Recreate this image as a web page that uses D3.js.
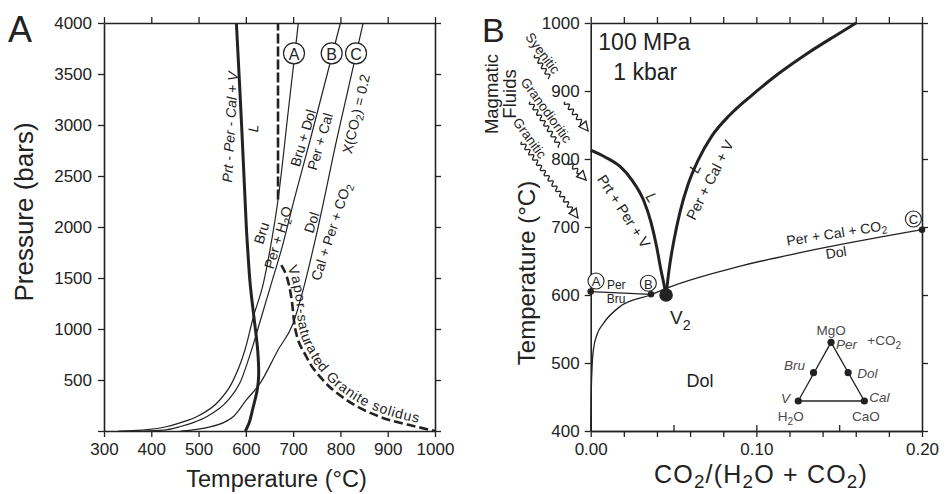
<!DOCTYPE html>
<html><head><meta charset="utf-8">
<script src="https://cdn.jsdelivr.net/npm/d3@7"></script>
<style>
body{margin:0;background:#fff;}
svg{display:block;font-family:"Liberation Sans",Arial,sans-serif;}
</style></head><body>
<svg id="chart" width="948" height="494"></svg>
<script>
// ================= DATA =================
// Panel A : temperature (°C) vs pressure (bars)
const tempTicksA  = [300,400,500,600,700,800,900,1000];
const pressTicksA = [0,500,1000,1500,2000,2500,3000,3500,4000];
// [T, P] pairs
const curveA = [[330,0],[382,8],[432,42],[464,85],[496,140],[545,304],[570,467],[598,794],[616,1120],[637,1448],[651,1775],[668,2265],[690,3150],[711,4000]];
const curveB = [[385,0],[425,8],[460,42],[490,85],[517,140],[563,304],[587,467],[612,794],[633,1120],[654,1448],[675,1775],[702,2265],[736,2853],[800,4000]];
const curveC = [[462,0],[520,35],[573,140],[601,304],[630,467],[668,794],[700,1056],[721,1382],[750,1941],[792,2853],[848,4000]];
const liquidusA = [[599,0],[607,80],[614,206],[624,402],[627,532],[625,794],[617,1120],[609,1448],[604,1775],[601,2000],[591,3000],[580,4000]];
const verticalDashA = [[668,2270],[668,4000]];
const solidusA = [[675,1627],[697,1284],[703.5,1022],[728,728],[763,500],[813,304],[883,140],[961,42],[1000,0]];
const circlesA = [{t:"A",T:701.8,P:3703},{t:"B",T:781.5,P:3703},{t:"C",T:833,P:3703}];
const labelsA = [
  {t:"Prt - Per - Cal + V", T:566.5, P:2980, rot:-86.8, it:true},
  {t:"L", T:615.7, P:2968, rot:-86.8, it:true},
  {t:"Bru + Dol", T:720.8, P:2873, rot:-73.6},
  {t:"Per + Cal", T:756.8, P:2838, rot:-73.6},
  {t:"X(CO_{2}) = 0.2", T:833, P:3108, rot:-76.8},
  {t:"Bru", T:633, P:1941, rot:-73},
  {t:"Per + H_{2}O", T:668, P:1897, rot:-73},
  {t:"Dol", T:739, P:2044, rot:-72},
  {t:"Cal + Per + CO_{2}", T:780, P:1954, rot:-72}
];
const solidusLabel = "Vapor-saturated Granite solidus";

// Panel B : X(CO2) vs temperature (°C) at 100 MPa
const xTicksB      = [0,0.02,0.04,0.06,0.08,0.10,0.12,0.14,0.16,0.18,0.20];
const xLabelsB     = ["0.00","0.10","0.20"];
const xInnerTicksB = [0.05,0.10,0.15];
const tempTicksB   = [400,500,600,700,800,900,1000];
// [X, T] pairs
const leftThickB  = [[0,813],[0.0086,803],[0.0177,789],[0.0249,769],[0.0318,740],[0.0364,707],[0.0398,671],[0.0424,637],[0.0443,615],[0.0455,600]];
const rightThickB = [[0.0455,600],[0.0473,637],[0.0503,681],[0.0539,722],[0.0587,762],[0.0648,798],[0.0732,834],[0.0841,865],[0.0974,894],[0.1131,925],[0.1312,956],[0.1475,981],[0.1602,1000]];
const dolCurveB   = [[0,400],[0.0002,440],[0.0008,492],[0.0016,519],[0.0040,543],[0.0076,558],[0.0177,583],[0.036,600],[0.048,612],[0.088,641],[0.128,663],[0.2,696]];
const perBruB     = [[0,605],[0.0364,601]];
const dotsB       = [[0,605],[0.0364,601],[0.2,696]];
const v2PointB    = [0.0455,600];
const circlesB    = [{t:"A",x:0.0032,T:620.6},{t:"B",x:0.0348,T:617.2},{t:"C",x:0.1948,T:711.8}];
const labelsB = [
  {t:"100 MPa", x:0.0046, T:960.3, fs:23, anchor:"start", mid:false},
  {t:"1 kbar", x:0.0136, T:916.2, fs:23, anchor:"start", mid:false},
  {t:"Prt + Per + V", x:0.0200, T:723, rot:57, fs:14.5},
  {t:"L", x:0.0372, T:744, rot:57, fs:15, it:true},
  {t:"L", x:0.0626, T:787, rot:-63, fs:15, it:true},
  {t:"Per + Cal + V", x:0.0720, T:769.1, rot:-63, fs:14.5},
  {t:"Per + Cal + CO_{2}", x:0.1485, T:691.2, rot:-9, fs:14},
  {t:"Dol", x:0.1481, T:662.5, rot:-9, fs:14},
  {t:"Per", x:0.0098, T:608.8, fs:12, anchor:"start", mid:false},
  {t:"Bru", x:0.0097, T:588.2, fs:12, anchor:"start", mid:false},
  {t:"Dol", x:0.0660, T:464.7, fs:18, mid:false}
];
// inset ternary (MgO - H2O - CaO, +CO2)
const ternaryPts = [{n:"MgO",x:0.1451,T:530.4},{n:"Bru",x:0.1345,T:485.7},{n:"Dol",x:0.1554,T:485.7},{n:"V",x:0.1253,T:444.1},{n:"Cal",x:0.1652,T:444.1}];
const ternaryEdges = [["MgO","V"],["MgO","Cal"],["V","Cal"]];
const ternaryLabels = [
  {t:"MgO", x:0.1451, T:541.2, anchor:"middle"},
  {t:"Per", x:0.1481, T:520.6, anchor:"start", it:true},
  {t:"+CO_{2}", x:0.1670, T:526.5, anchor:"start"},
  {t:"Bru", x:0.1294, T:489.7, anchor:"end", it:true},
  {t:"Dol", x:0.1609, T:478.0, anchor:"start", it:true},
  {t:"V", x:0.1203, T:441.2, anchor:"end", it:true},
  {t:"Cal", x:0.1682, T:443.1, anchor:"start", it:true},
  {t:"H_{2}O", x:0.1208, T:414.7, anchor:"middle"},
  {t:"CaO", x:0.1661, T:414.7, anchor:"middle"}
];
// magmatic fluid annotations (panel B coordinates)
const fluidTexts = [
  {t:"Syenitic", x:-0.0288, T:955.9, rot:53},
  {t:"Granodioritic", x:-0.0266, T:872.1, rot:54},
  {t:"Granitic", x:-0.0366, T:830.9, rot:54}
];
const fluidWaves  = [[[-0.0336,952.9],[-0.0246,919.1]],[[-0.0366,884.3],[-0.0185,818.1]]];
const fluidArrows = [[[-0.0156,884.3],[-0.0016,841.2]],[[-0.0135,796.0],[-0.0028,769.1]],[[-0.0417,825.4],[-0.0077,713.2]]];

// ================= DRAW =================
const ink = "#222";
const svg = d3.select("#chart");

const xA = d3.scaleLinear().domain([300,1000]).range([104,435]);
const yA = d3.scaleLinear().domain([0,4000]).range([431,23]);
const xB = d3.scaleLinear().domain([0,0.2]).range([590.7,922]);
const yB = d3.scaleLinear().domain([400,1000]).range([431,23]);

function rich(sel, str, fs, shift){
  shift = shift==null ? 0.3 : shift;
  const parts = str.split(/(_\{[^}]*\})/);
  let shifted = false;
  parts.forEach(p=>{
    if(!p) return;
    if(p.startsWith("_{")){
      sel.append("tspan").attr("dy", fs*shift).attr("font-size", fs*0.75).text(p.slice(2,-1));
      shifted = true;
    } else {
      const t = sel.append("tspan").text(p);
      if(shifted){ t.attr("dy", -fs*shift); shifted=false; }
    }
  });
}
function addText(g, x, y, str, o){
  o = o||{};
  const fs = o.fs||14;
  const t = g.append("text").attr("transform", `translate(${x},${y}) rotate(${o.rot||0})`)
    .attr("text-anchor", o.anchor||"middle").attr("font-size", fs).attr("fill", o.fill||ink);
  if(o.mid!==false) t.attr("dominant-baseline","central");
  if(o.it) t.attr("font-style","italic");
  if(o.ls) t.attr("letter-spacing", o.ls);
  rich(t, str, fs);
  return t;
}
function styleAxis(g, fs){
  g.selectAll(".domain").attr("stroke", ink).attr("stroke-width", 1.6);
  g.selectAll(".tick line").attr("stroke", ink).attr("stroke-width", 1.3);
  g.selectAll(".tick text").attr("fill", ink).attr("font-size", fs||17).attr("font-family","Liberation Sans, Arial, sans-serif");
}

// ---------- Panel A ----------
const gA = svg.append("g");
styleAxis(gA.append("g").attr("transform","translate(0,431)")
  .call(d3.axisBottom(xA).tickValues(tempTicksA).tickSizeInner(6).tickSizeOuter(0).tickPadding(6).tickFormat(d3.format("d"))));
styleAxis(gA.append("g").attr("transform","translate(0,23)")
  .call(d3.axisTop(xA).tickValues(tempTicksA).tickSizeInner(6).tickSizeOuter(0).tickFormat("")));
styleAxis(gA.append("g").attr("transform","translate(104,0)")
  .call(d3.axisLeft(yA).tickValues(pressTicksA).tickSizeInner(6).tickSizeOuter(0).tickPadding(6).tickFormat(d=>d===0?"":d)));
styleAxis(gA.append("g").attr("transform","translate(435,0)")
  .call(d3.axisRight(yA).tickValues(pressTicksA).tickSizeInner(6).tickSizeOuter(0).tickFormat("")));

const lineA = d3.line().x(d=>xA(d[0])).y(d=>yA(d[1]));
const lineAmono = d3.line().x(d=>xA(d[0])).y(d=>yA(d[1])).curve(d3.curveMonotoneX);
[curveA, curveB, curveC].forEach(c=>{
  gA.append("path").attr("d", lineAmono(c)).attr("fill","none").attr("stroke",ink).attr("stroke-width",1.2);
});
gA.append("path").attr("d", d3.line().x(d=>xA(d[0])).y(d=>yA(d[1])).curve(d3.curveCatmullRom)(liquidusA))
  .attr("fill","none").attr("stroke",ink).attr("stroke-width",3);
gA.append("path").attr("d", lineA(verticalDashA)).attr("fill","none").attr("stroke",ink)
  .attr("stroke-width",2.6).attr("stroke-dasharray","10,3");
gA.append("path").attr("id","solidusPath").attr("d", lineAmono(solidusA)).attr("fill","none").attr("stroke",ink)
  .attr("stroke-width",2.6).attr("stroke-dasharray","9,4");
gA.append("text").attr("font-size",14).attr("fill",ink).attr("letter-spacing",1).attr("dy",-4)
  .append("textPath").attr("href","#solidusPath").attr("startOffset",5).text(solidusLabel);

labelsA.forEach(l=> addText(gA, xA(l.T), yA(l.P), l.t, {rot:l.rot, it:l.it, fs:14}));
circlesA.forEach(c=>{
  gA.append("circle").attr("cx",xA(c.T)).attr("cy",yA(c.P)).attr("r",10.5).attr("fill","#fff").attr("stroke",ink).attr("stroke-width",1.2);
  addText(gA, xA(c.T), yA(c.P)+0.5, c.t, {fs:16});
});
// titles
gA.append("text").attr("x",8).attr("y",42).attr("font-size",36).attr("fill",ink).text("A");
gA.append("text").attr("transform","translate(33,212) rotate(-90)").attr("text-anchor","middle")
  .attr("font-size",26).attr("fill",ink).text("Pressure (bars)");
gA.append("text").attr("x",276.5).attr("y",487).attr("text-anchor","middle")
  .attr("font-size",23.5).attr("fill",ink).text("Temperature (°C)");

// ---------- Panel B ----------
const gB = svg.append("g");
styleAxis(gB.append("g").attr("transform","translate(0,431)")
  .call(d3.axisBottom(xB).tickValues(xTicksB).tickSizeInner(6).tickSizeOuter(0).tickPadding(6)
  .tickFormat(d=>{ const s=d.toFixed(2); return xLabelsB.includes(s)?s:""; })));
styleAxis(gB.append("g").attr("transform","translate(0,431)")
  .call(d3.axisBottom(xB).tickValues(xInnerTicksB).tickSizeInner(-6).tickSizeOuter(0).tickFormat("")));
styleAxis(gB.append("g").attr("transform","translate(0,23)")
  .call(d3.axisTop(xB).tickValues(xTicksB).tickSizeInner(6).tickSizeOuter(0).tickFormat("")));
styleAxis(gB.append("g").attr("transform","translate(590.7,0)")
  .call(d3.axisLeft(yB).tickValues(tempTicksB).tickSizeInner(6).tickSizeOuter(0).tickPadding(5).tickFormat(d3.format("d"))));
styleAxis(gB.append("g").attr("transform","translate(922,0)")
  .call(d3.axisRight(yB).tickValues(tempTicksB).tickSizeInner(6).tickSizeOuter(0).tickFormat("")));

const lineB = d3.line().x(d=>xB(d[0])).y(d=>yB(d[1]));
const lineBmono = d3.line().x(d=>xB(d[0])).y(d=>yB(d[1])).curve(d3.curveMonotoneX);
gB.append("path").attr("d", lineBmono(dolCurveB)).attr("fill","none").attr("stroke",ink).attr("stroke-width",1.3);
gB.append("path").attr("d", lineB(perBruB)).attr("fill","none").attr("stroke",ink).attr("stroke-width",1.3);
gB.append("path").attr("d", lineBmono(leftThickB)).attr("fill","none").attr("stroke",ink).attr("stroke-width",3);
gB.append("path").attr("d", lineBmono(rightThickB)).attr("fill","none").attr("stroke",ink).attr("stroke-width",3);
dotsB.forEach(d=> gB.append("circle").attr("cx",xB(d[0])).attr("cy",yB(d[1])).attr("r",3.3).attr("fill",ink));
gB.append("circle").attr("cx",xB(v2PointB[0])).attr("cy",yB(v2PointB[1])).attr("r",6.8).attr("fill",ink);
// V2 label
const v2t = gB.append("text").attr("x", xB(v2PointB[0])+4).attr("y", yB(v2PointB[1])+29).attr("font-size",19).attr("fill",ink);
rich(v2t, "V_{2}", 19);

circlesB.forEach(c=>{
  gB.append("circle").attr("cx",xB(c.x)).attr("cy",yB(c.T)).attr("r",8).attr("fill","#fff").attr("stroke",ink).attr("stroke-width",1.1);
  addText(gB, xB(c.x), yB(c.T)+0.5, c.t, {fs:13});
});
labelsB.forEach(l=> addText(gB, xB(l.x), yB(l.T), l.t, l));

// inset ternary
const tp = Object.fromEntries(ternaryPts.map(p=>[p.n,p]));
ternaryEdges.forEach(e=>{
  gB.append("line").attr("x1",xB(tp[e[0]].x)).attr("y1",yB(tp[e[0]].T))
    .attr("x2",xB(tp[e[1]].x)).attr("y2",yB(tp[e[1]].T)).attr("stroke",ink).attr("stroke-width",1.3);
});
ternaryPts.forEach(p=> gB.append("circle").attr("cx",xB(p.x)).attr("cy",yB(p.T)).attr("r",3.6).attr("fill",ink));
ternaryLabels.forEach(l=> addText(gB, xB(l.x), yB(l.T), l.t, {fs:13.5, anchor:l.anchor, it:l.it, mid:false, fill:"#4a4a4a"}));

// magmatic fluids annotation
function wavyPts(p0, p1, amp, wl){
  const dx=p1[0]-p0[0], dy=p1[1]-p0[1], L=Math.hypot(dx,dy);
  const ux=dx/L, uy=dy/L, nx=-uy, ny=ux;
  const n=Math.max(4, Math.round(L/wl*10));
  const pts=[];
  for(let i=0;i<=n;i++){
    const s=i/n*L, off=amp*Math.sin(2*Math.PI*s/wl);
    pts.push([p0[0]+ux*s+nx*off, p0[1]+uy*s+ny*off]);
  }
  return pts;
}
const smooth = d3.line().curve(d3.curveBasis);
fluidWaves.forEach(w=>{
  const p0=[xB(w[0][0]),yB(w[0][1])], p1=[xB(w[1][0]),yB(w[1][1])];
  gB.append("path").attr("d", smooth(wavyPts(p0,p1,2,6.5))).attr("fill","none").attr("stroke",ink).attr("stroke-width",1.3);
});
fluidArrows.forEach(w=>{
  const p0=[xB(w[0][0]),yB(w[0][1])], tip=[xB(w[1][0]),yB(w[1][1])];
  const dx=tip[0]-p0[0], dy=tip[1]-p0[1], L=Math.hypot(dx,dy), ux=dx/L, uy=dy/L;
  const hl=9, hw=4.5;
  const base=[tip[0]-ux*hl, tip[1]-uy*hl];
  gB.append("path").attr("d", smooth(wavyPts(p0,base,2,6.5))).attr("fill","none").attr("stroke",ink).attr("stroke-width",1.3);
  const tri=[tip,[base[0]-uy*hw, base[1]+ux*hw],[base[0]+uy*hw, base[1]-ux*hw]];
  gB.append("path").attr("d","M"+tri.map(p=>p.join(",")).join("L")+"Z").attr("fill","#fff").attr("stroke",ink).attr("stroke-width",1.3);
});
fluidTexts.forEach(l=> addText(gB, xB(l.x), yB(l.T), l.t, {rot:l.rot, fs:13.5}));
addText(gB, xB(-0.0602), yB(895.6), "Magmatic", {rot:-90, fs:18.5});
addText(gB, xB(-0.0493), yB(895.6), "Fluids", {rot:-90, fs:18.5});

// titles
gB.append("text").attr("x",482).attr("y",42).attr("font-size",34).attr("fill",ink).text("B");
gB.append("text").attr("transform","translate(535,273) rotate(-90)").attr("text-anchor","middle")
  .attr("font-size",24).attr("fill",ink).text("Temperature (°C)");
const xt = gB.append("text").attr("x",761).attr("y",483).attr("text-anchor","middle")
  .attr("font-size",25).attr("letter-spacing",1.2).attr("fill",ink);
rich(xt, "CO_{2}/(H_{2}O + CO_{2})", 25, 0.2);
</script>
</body></html>
